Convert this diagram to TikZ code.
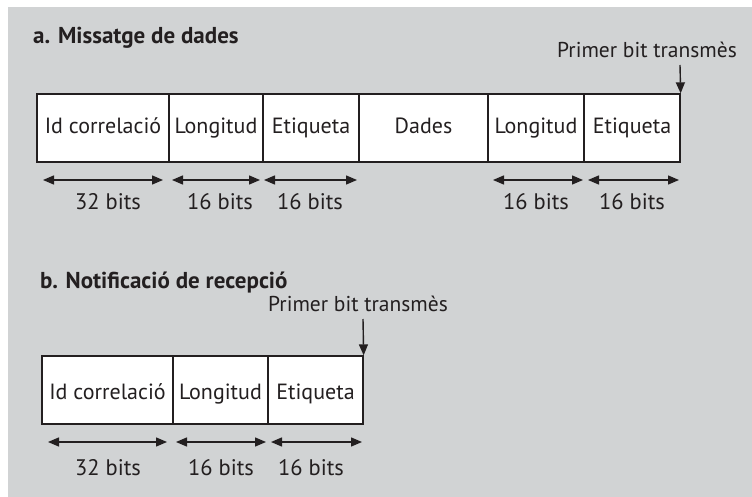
\documentclass[tikz,border=0pt]{standalone}
\usepackage{fontspec}
\setmainfont{PT Sans}
\usetikzlibrary{arrows.meta}
\definecolor{bg}{HTML}{D1D3D4}
\definecolor{ink}{HTML}{231F20}
\begin{document}
\begin{tikzpicture}[x=1pt,y=-1pt,
  field/.style={draw=ink,line width=1.3pt,fill=white,inner sep=0pt,
    minimum height=68pt,text=ink,font=\fontsize{22}{26}\selectfont},
  fa/.style={field,text height=11pt,text depth=0pt},
  fb/.style={field,text height=18pt,text depth=0pt},
  tip/.tip={Triangle[length=11pt,width=9pt]},
  dim/.style={draw=ink,line width=1.4pt,tip-tip},
  bits/.style={text=ink,anchor=base,inner sep=0pt,font=\fontsize{22.5}{26}\selectfont},
  ttl/.style={text=ink,anchor=base west,inner sep=0pt,font=\bfseries\fontsize{23}{28}\selectfont},
  first/.style={text=ink,anchor=base,inner sep=0pt,font=\fontsize{21.5}{25}\selectfont},
  ptr/.style={draw=ink,line width=1.4pt,-tip}]
\useasboundingbox (0,0) rectangle (752,497);
\fill[bg] (8,7) rectangle (752,497);
% part a
\node[ttl] (ta) at (33,44) {a. Missatge de dades};
\node[fa,minimum width=132pt] (a1) at (103,128) {Id correlació};
\node[fa,minimum width=94pt] (a2) at (216,128) {Longitud};
\node[fa,minimum width=96pt] (a3) at (311,128) {Etiqueta};
\node[fa,minimum width=129pt] (a4) at (423.5,128) {Dades};
\node[fa,minimum width=96pt] (a5) at (536,128) {Longitud};
\node[fa,minimum width=96pt] (a6) at (632,128) {Etiqueta};
\node[first] (pa) at (647,58) {Primer bit transmès};
\coordinate (pas) at (680,65);
\draw[ptr] (pas) -- (a6.north east);
\coordinate (d1l) at (43,180); \coordinate (d1r) at (163,180);
\coordinate (d2l) at (172,180); \coordinate (d2r) at (260,180);
\coordinate (d3l) at (264,180); \coordinate (d3r) at (357,180);
\coordinate (d5l) at (493,180); \coordinate (d5r) at (583,180);
\coordinate (d6l) at (588,180); \coordinate (d6r) at (679,180);
\draw[dim] (d1l) -- (d1r);
\draw[dim] (d2l) -- (d2r);
\draw[dim] (d3l) -- (d3r);
\draw[dim] (d5l) -- (d5r);
\draw[dim] (d6l) -- (d6r);
\node[bits] (b1) at (108,210) {32 bits};
\node[bits] (b2) at (220,210) {16 bits};
\node[bits] (b3) at (310,210) {16 bits};
\node[bits] (b5) at (536,210) {16 bits};
\node[bits] (b6) at (632,210) {16 bits};
% part b
\node[ttl] (tb) at (40,288) {b. Notificació de recepció};
\node[fb,minimum width=131pt] (c1) at (107.5,390) {Id correlació};
\node[fb,minimum width=95pt] (c2) at (220.5,390) {Longitud};
\node[fb,minimum width=95pt] (c3) at (315.5,390) {Etiqueta};
\node[first] (pb) at (358,311) {Primer bit transmès};
\coordinate (pbs) at (363,319);
\draw[ptr] (pbs) -- (c3.north east);
\coordinate (e1l) at (48,442); \coordinate (e1r) at (167,442);
\coordinate (e2l) at (176,442); \coordinate (e2r) at (266,442);
\coordinate (e3l) at (271,442); \coordinate (e3r) at (362,442);
\draw[dim] (e1l) -- (e1r);
\draw[dim] (e2l) -- (e2r);
\draw[dim] (e3l) -- (e3r);
\node[bits] (g1) at (108,475) {32 bits};
\node[bits] (g2) at (221,475) {16 bits};
\node[bits] (g3) at (311,475) {16 bits};
\end{tikzpicture}
\end{document}
